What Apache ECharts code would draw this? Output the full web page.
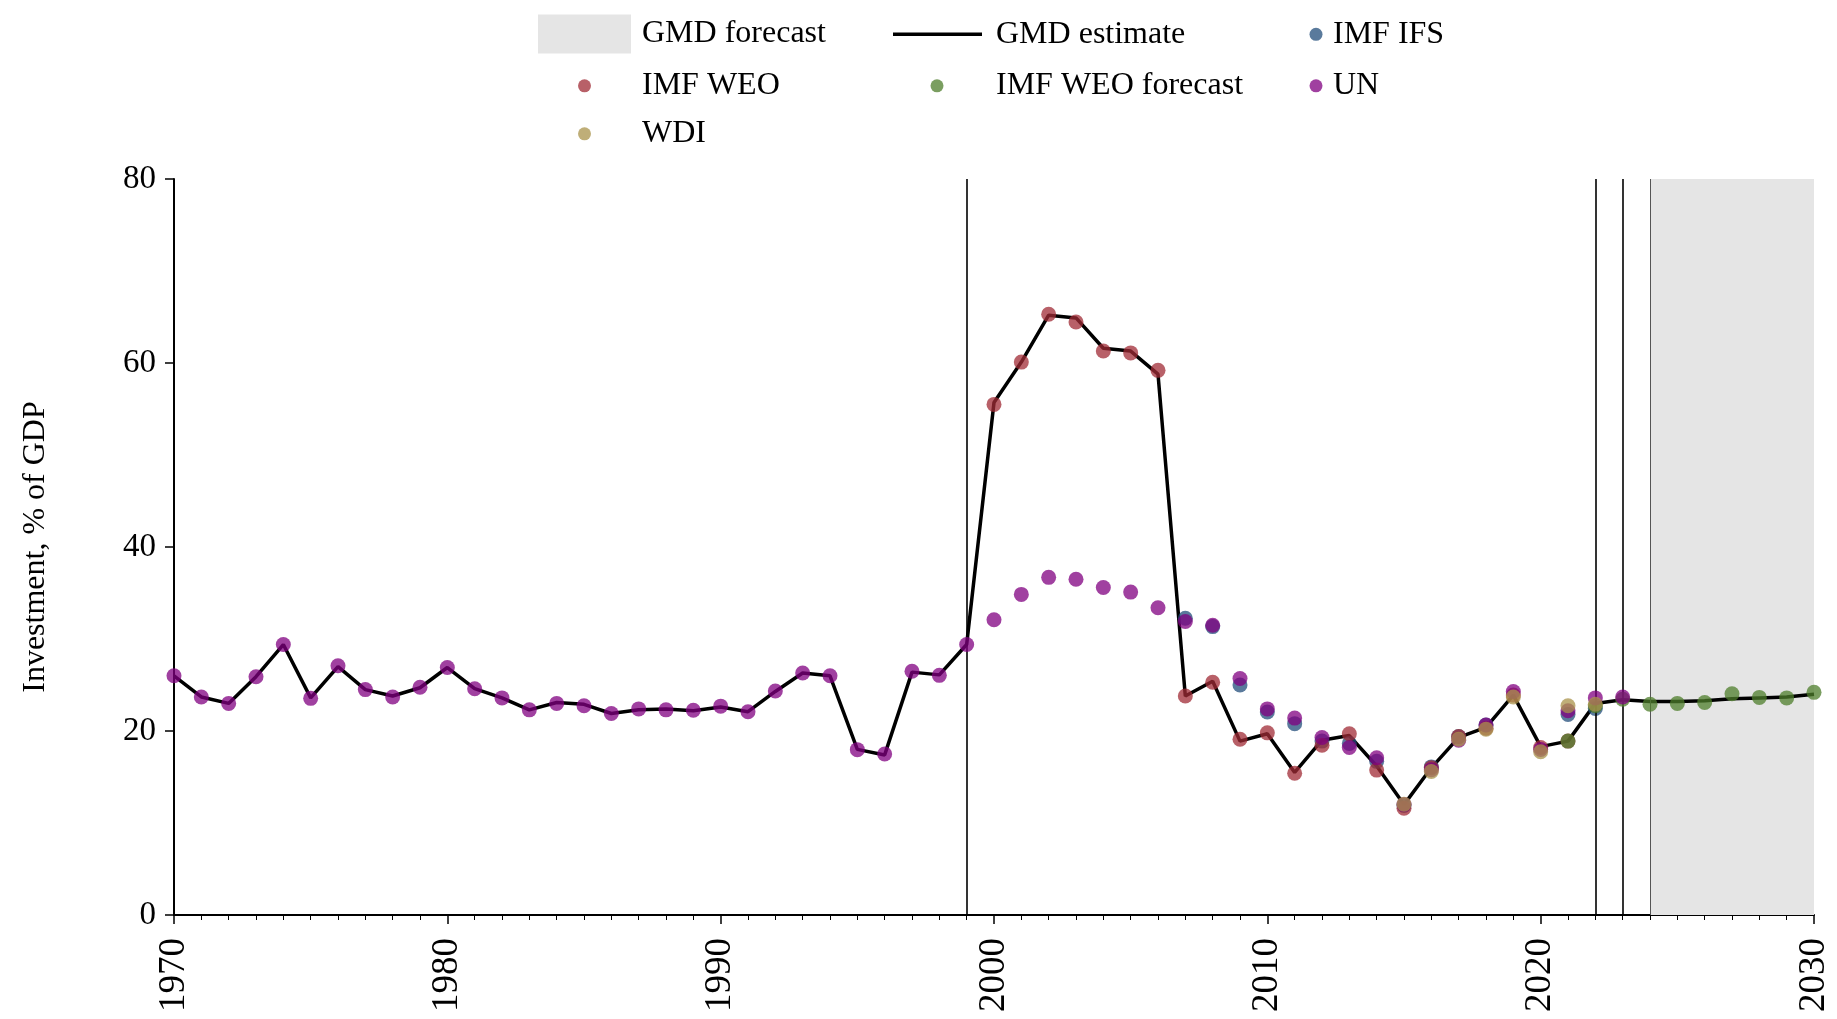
<!DOCTYPE html>
<html>
<head>
<meta charset="utf-8">
<script src="https://cdn.jsdelivr.net/npm/echarts@6/dist/echarts.min.js"></script>
<style>
html,body{margin:0;padding:0;background:#fff;}
#chart{width:1837px;height:1019px;}
</style>
</head>
<body>
<div id="chart"></div>
<script>
// ---- Data ----
const gmdYears = [1970,1971,1972,1973,1974,1975,1976,1977,1978,1979,1980,1981,1982,1983,1984,1985,1986,1987,1988,1989,1990,1991,1992,1993,1994,1995,1996,1997,1998,1999,2000,2001,2002,2003,2004,2005,2006,2007,2008,2009,2010,2011,2012,2013,2014,2015,2016,2017,2018,2019,2020,2021,2022,2023,2024,2025,2026,2027,2028,2029,2030];
const gmdValues = [26.0,23.7,23.0,25.9,29.4,23.6,27.0,24.5,23.8,24.7,26.9,24.6,23.6,22.3,23.1,22.9,21.9,22.3,22.4,22.2,22.6,22.1,24.3,26.3,26.0,18.0,17.4,26.4,26.1,29.4,55.7,60.1,65.2,64.9,61.6,61.3,58.8,23.8,25.4,18.9,19.7,15.5,19.0,19.5,16.2,12.0,16.0,19.3,20.4,23.9,18.3,18.9,23.0,23.4,23.2,23.2,23.3,23.5,23.6,23.7,24.0];

const unYears = [1970,1971,1972,1973,1974,1975,1976,1977,1978,1979,1980,1981,1982,1983,1984,1985,1986,1987,1988,1989,1990,1991,1992,1993,1994,1995,1996,1997,1998,1999,2000,2001,2002,2003,2004,2005,2006,2007,2008,2009,2010,2011,2012,2013,2014,2015,2016,2017,2018,2019,2020,2021,2022,2023];
const unValues = [26.0,23.7,23.0,25.9,29.4,23.55,27.1,24.5,23.7,24.75,26.9,24.6,23.6,22.3,23.0,22.75,21.9,22.4,22.3,22.25,22.7,22.1,24.35,26.3,26.0,17.97,17.5,26.5,26.05,29.4,32.1,34.85,36.7,36.5,35.6,35.1,33.4,31.9,31.5,25.7,22.4,21.4,19.3,18.2,17.1,12.0,15.8,19.0,20.65,24.3,18.0,22.2,23.6,23.7];

const weoYears = [2000,2001,2002,2003,2004,2005,2006,2007,2008,2009,2010,2011,2012,2013,2014,2015,2016,2017,2018,2019,2020,2021];
const weoValues = [55.5,60.1,65.3,64.45,61.3,61.1,59.2,23.8,25.3,19.1,19.8,15.4,18.45,19.7,15.75,11.6,16.0,19.4,20.3,23.9,18.2,18.9];

const ifsYears = [2007,2008,2009,2010,2011,2012,2013,2014,2015,2016,2017,2018,2021,2022];
const ifsValues = [32.25,31.35,25.0,22.07,20.8,18.9,18.65,16.7,11.9,16.1,19.4,20.65,21.8,22.45];

const wdiYears = [2015,2016,2017,2018,2019,2020,2021,2022];
const wdiValues = [12.05,15.6,19.1,20.2,23.7,17.75,22.75,22.9];

const weoFcYears = [2021,2022,2023,2024,2025,2026,2027,2028,2029,2030];
const weoFcValues = [18.9,22.75,23.45,22.9,23.0,23.1,24.05,23.65,23.6,24.2];

const forecastStart = 2024, forecastEnd = 2030;
const markYears = [1999, 2022, 2023];

const xTicks = [1970, 1980, 1990, 2000, 2010, 2020, 2030];
const yTicks = [0, 20, 40, 60, 80];

// ---- Chart ----
const FONT = '"Liberation Serif", "Times New Roman", serif';
const pairs = (xs, ys) => xs.map((x, i) => [x, ys[i]]);

const colors = {
  ifs: '#234e7b',
  weo: '#a02b36',
  weoFc: '#4e7e2b',
  un: '#800080',
  wdi: '#aa934b'
};
const DOT = 15, ALPHA = 0.75;

function scatter(name, xs, ys, color, z) {
  return {
    name, type: 'scatter', data: pairs(xs, ys), symbol: 'circle', symbolSize: DOT,
    itemStyle: { color, opacity: ALPHA }, z, silent: true
  };
}

function legendItem(name, left, top, w, h, pad, extra) {
  return {
    data: [Object.assign({ name }, extra)],
    left, top, orient: 'horizontal', padding: 0,
    itemWidth: w, itemHeight: h, selectedMode: false,
    textStyle: { fontFamily: FONT, fontSize: 32, color: '#000', padding: pad }
  };
}
const dotIcon = color => ({ icon: 'circle', itemStyle: { color, opacity: ALPHA, borderWidth: 0 } });

const chart = echarts.init(document.getElementById('chart'), null, { renderer: 'canvas' });
chart.setOption({
  animation: false,
  backgroundColor: '#fff',
  textStyle: { fontFamily: FONT },
  grid: { left: 174, right: 23, top: 179, bottom: 104 },
  legend: [
    legendItem('GMD forecast', 538, 14.5, 93, 39, [0, 0, 0, 6], { icon: 'rect', itemStyle: { color: '#e5e5e5', opacity: 1, borderWidth: 0 } }),
    legendItem('GMD estimate', 893, 18.3, 89, 3.5, [0, 0, 0, 9], { icon: 'rect', itemStyle: { color: '#000', opacity: 1, borderWidth: 0 } }),
    legendItem('IMF IFS', 1309.5, 18.3, 24, 13, [0, 0, 0, 0], dotIcon(colors.ifs)),
    legendItem('IMF WEO', 578, 69.8, 93, 13, [0, 0, 0, 6], dotIcon(colors.weo)),
    legendItem('IMF WEO forecast', 930.5, 69.8, 89, 13, [0, 0, 0, 9.5], dotIcon(colors.weoFc)),
    legendItem('UN', 1309.5, 69.8, 24, 13, [0, 0, 0, 0], dotIcon(colors.un)),
    legendItem('WDI', 578, 117.8, 93, 13, [0, 0, 0, 6], dotIcon(colors.wdi))
  ],
  xAxis: {
    type: 'value', min: xTicks[0], max: xTicks[xTicks.length - 1], interval: 10,
    splitLine: { show: false },
    axisLine: { show: true, onZero: false, lineStyle: { color: '#000', width: 2 } },
    axisTick: { show: true, inside: false, length: 9, lineStyle: { color: '#000', width: 1.5 } },
    minorTick: { show: true, splitNumber: 10, length: 5, lineStyle: { color: '#000', width: 1 } },
    axisLabel: {
      rotate: 90, margin: 23, color: '#000', fontFamily: FONT, fontSize: 37,
      formatter: v => String(v)
    }
  },
  yAxis: {
    type: 'value', min: yTicks[0], max: yTicks[yTicks.length - 1], interval: 20,
    name: 'Investment, % of GDP', nameLocation: 'middle', nameGap: 122, nameRotate: 90,
    nameTextStyle: { fontFamily: FONT, fontSize: 32, color: '#000' },
    splitLine: { show: false },
    axisLine: { show: true, lineStyle: { color: '#000', width: 2 } },
    axisTick: { show: true, inside: false, length: 9, lineStyle: { color: '#000', width: 1.5 } },
    axisLabel: { margin: 18, color: '#000', fontFamily: FONT, fontSize: 33 }
  },
  series: [
    {
      name: 'GMD forecast', type: 'line', data: [], z: 0, silent: true,
      itemStyle: { color: '#e5e5e5' },
      markArea: {
        silent: true,
        itemStyle: { color: '#e5e5e5', opacity: 1 },
        data: [[{ xAxis: forecastStart }, { xAxis: forecastEnd }]]
      },
      markLine: {
        silent: true, symbol: ['none', 'none'], label: { show: false },
        data: markYears.map(y => ({ xAxis: y, lineStyle: { color: '#000', width: 1.6, type: 'solid' } }))
          .concat([{ xAxis: forecastStart, lineStyle: { color: '#555', width: 1, type: 'solid' } }])
      }
    },
    {
      name: 'GMD estimate', type: 'line', data: pairs(gmdYears, gmdValues),
      symbol: 'none', z: 2, silent: true,
      lineStyle: { color: '#000', width: 3.5 }, itemStyle: { color: '#000' }
    },
    scatter('IMF IFS', ifsYears, ifsValues, colors.ifs, 3),
    scatter('IMF WEO', weoYears, weoValues, colors.weo, 4),
    scatter('IMF WEO forecast', weoFcYears, weoFcValues, colors.weoFc, 5),
    scatter('UN', unYears, unValues, colors.un, 6),
    scatter('WDI', wdiYears, wdiValues, colors.wdi, 7)
  ]
});
</script>
</body>
</html>
